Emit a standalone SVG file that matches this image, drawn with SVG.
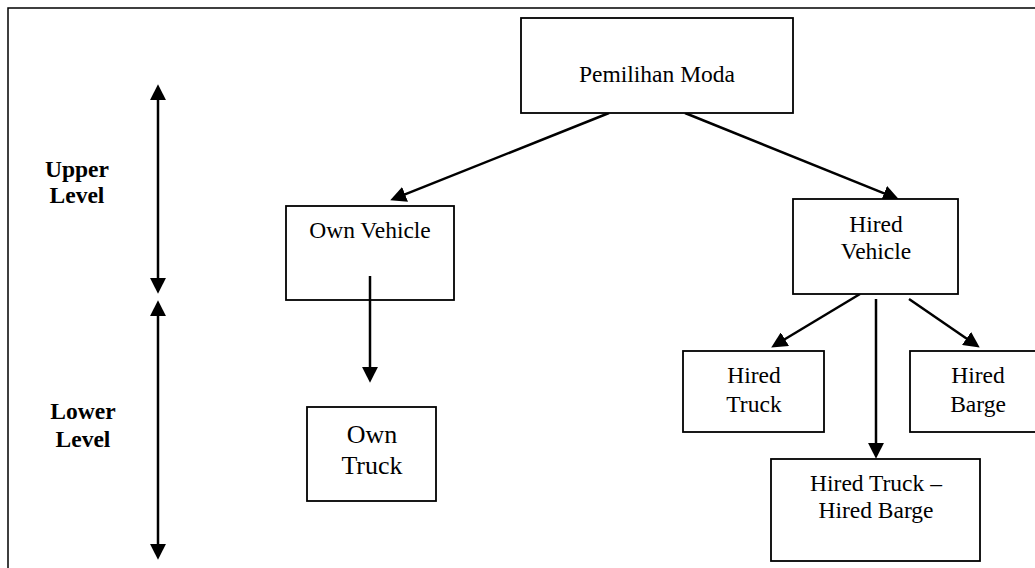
<svg xmlns="http://www.w3.org/2000/svg" width="1035" height="568" viewBox="0 0 1035 568">
<style>
  .box { fill: #fff; stroke: #000; stroke-width: 1.8; }
  .frame { fill: #fff; stroke: #000; stroke-width: 1.5; }
  .t { font-family: "Liberation Serif", "Times New Roman", serif; font-size: 23.5px; fill: #000; text-anchor: middle; }
  .big { font-size: 26px; }
  .b { font-weight: bold; }
  .conn { stroke: #000; stroke-width: 2.5; fill: none; marker-end: url(#ah); }
  .dbl { stroke: #000; stroke-width: 2.5; fill: none; marker-start: url(#ah); marker-end: url(#ah); }
</style>
<defs>
  <marker id="ah" markerUnits="userSpaceOnUse" markerWidth="16" markerHeight="16" viewBox="0 0 15 15" refX="2" refY="7.5" orient="auto-start-reverse">
    <path d="M0,0 L15,7.5 L0,15 z" fill="#000"/>
  </marker>
</defs>
<rect class="frame" x="8" y="8" width="1040" height="570"/>
<g id="levels">
  <text class="t b" x="77" y="177">Upper</text>
  <text class="t b" x="77" y="203">Level</text>
  <text class="t b" x="83" y="419">Lower</text>
  <text class="t b" x="83" y="447">Level</text>
</g>
<g id="connectors">
  <line class="dbl" x1="158" y1="98" x2="158" y2="280"/>
  <line class="dbl" x1="158" y1="314" x2="158" y2="546"/>
  <line class="conn" x1="609" y1="113" x2="403.1" y2="195.2"/>
  <line class="conn" x1="685" y1="113" x2="886" y2="194.1"/>
  <line class="conn" x1="370" y1="276" x2="370" y2="369"/>
  <line class="conn" x1="860" y1="294" x2="783.1" y2="340.3"/>
  <line class="conn" x1="876" y1="299" x2="876" y2="445"/>
  <line class="conn" x1="909" y1="299" x2="968.3" y2="339.7"/>
</g>
<g id="pemilihan-moda">
  <rect class="box" x="521" y="18" width="272" height="95"/>
  <text class="t" x="657" y="82">Pemilihan Moda</text>
</g>
<g id="own-vehicle">
  <rect class="box" x="286" y="206" width="168" height="94" fill="none" style="fill:none"/>
  <text class="t" x="370" y="238">Own Vehicle</text>
</g>
<g id="hired-vehicle">
  <rect class="box" x="793" y="199" width="165" height="95"/>
  <text class="t" x="876" y="232">Hired</text>
  <text class="t" x="876" y="259">Vehicle</text>
</g>
<g id="own-truck">
  <rect class="box" x="307" y="407" width="129" height="94"/>
  <text class="t big" x="372" y="443">Own</text>
  <text class="t big" x="372" y="474">Truck</text>
</g>
<g id="hired-truck">
  <rect class="box" x="683" y="351" width="141" height="81"/>
  <text class="t" x="754" y="383">Hired</text>
  <text class="t" x="754" y="412">Truck</text>
</g>
<g id="hired-barge">
  <rect class="box" x="910" y="351" width="140" height="81"/>
  <text class="t" x="978" y="383">Hired</text>
  <text class="t" x="978" y="412">Barge</text>
</g>
<g id="hired-truck-hired-barge">
  <rect class="box" x="771" y="459" width="209" height="102"/>
  <text class="t" x="876" y="491">Hired Truck –</text>
  <text class="t" x="876" y="518">Hired Barge</text>
</g>
</svg>
